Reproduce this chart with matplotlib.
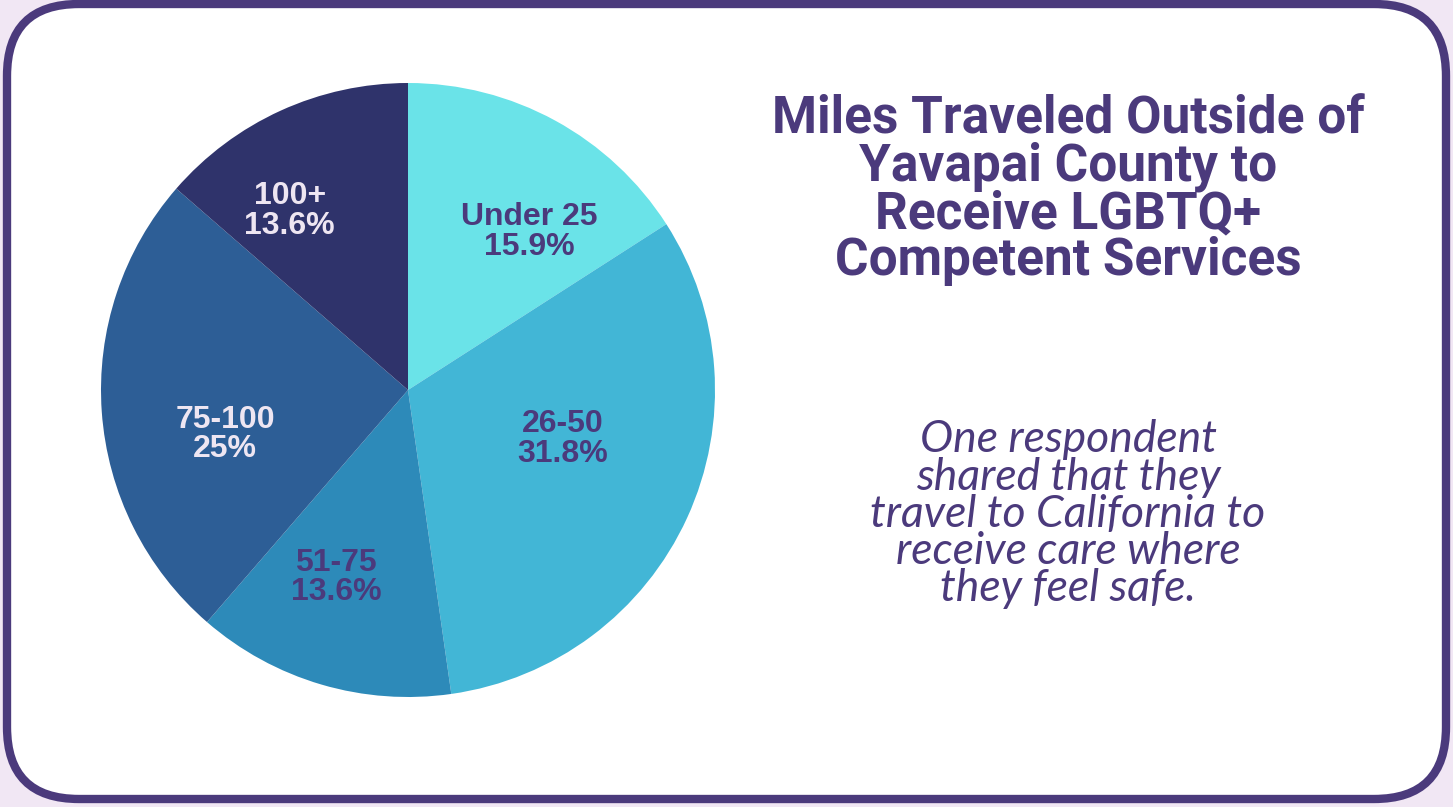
import matplotlib
matplotlib.use("Agg")
import matplotlib.pyplot as plt
from matplotlib.patches import FancyBboxPatch

# survey data: miles traveled outside the county
categories = ["Under 25", "26-50", "51-75", "75-100", "100+"]
shares = [15.9, 31.8, 13.6, 25, 13.6]
share_labels = ["15.9%", "31.8%", "13.6%", "25%", "13.6%"]
slice_colors = ["#6AE3E8", "#42B6D6", "#2D8AB9", "#2D5E96", "#2F336B"]
text_colors = ["#4B3A7C", "#4B3A7C", "#4B3A7C", "#EEE6F2", "#EEE6F2"]
# where each label block sits, in pie units (radius = 1)
label_pos = [(0.395, 0.515), (0.505, -0.16), (-0.235, -0.61), (-0.595, -0.145), (-0.385, 0.583)]

title_lines = ["Miles Traveled Outside of", "Yavapai County to",
               "Receive LGBTQ+", "Competent Services"]
quote_lines = ["One respondent", "shared that they", "travel to California to",
               "receive care where", "they feel safe."]

PURPLE = "#4B3A7C"
W, H = 1453, 807

fig = plt.figure(figsize=(W / 100, H / 100), dpi=100)
fig.patch.set_facecolor("#F1E7F4")

bg = fig.add_axes([0, 0, 1, 1])
bg.set_xlim(0, W)
bg.set_ylim(H, 0)
bg.axis("off")
card = FancyBboxPatch((7, 4), 1439, 795, boxstyle="round,pad=0,rounding_size=72",
                      facecolor="white", edgecolor=PURPLE, linewidth=6)
bg.add_patch(card)

# pie, centre (408, 390) px, radius 307 px
cx, cy, r = 408, 390, 307
ax = fig.add_axes([(cx - r) / W, (H - cy - r) / H, 2 * r / W, 2 * r / H])
ax.pie(shares, colors=slice_colors, startangle=90, counterclock=False,
       wedgeprops=dict(linewidth=0))
ax.set_xlim(-1, 1)
ax.set_ylim(-1, 1)
ax.set_aspect("equal")
ax.axis("off")

for cat, lab, col, (x, y) in zip(categories, share_labels, text_colors, label_pos):
    ax.text(x, y, cat + "\n" + lab, ha="center", va="center", color=col,
            fontsize=23, fontweight="bold", family="Liberation Sans",
            linespacing=0.97)

# title lines
for i, line in enumerate(title_lines):
    bg.text(1068, 120 + i * 47, line, ha="center", va="center", color=PURPLE,
            fontsize=37, fontweight="bold", family="Roboto")

# quote lines
for i, line in enumerate(quote_lines):
    bg.text(1068, 440 + i * 37.2, line, ha="center", va="center", color=PURPLE,
            fontsize=32, fontstyle="italic", family="Lato")

fig.savefig("out.png", dpi=100, facecolor=fig.get_facecolor())
